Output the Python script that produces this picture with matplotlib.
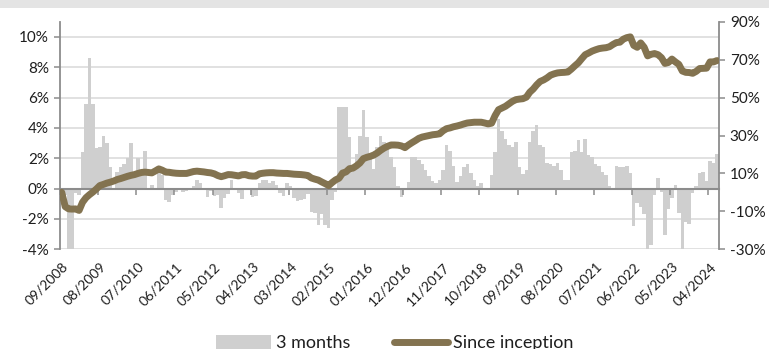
import matplotlib
matplotlib.use("Agg")
import matplotlib.pyplot as plt
from matplotlib.patches import Rectangle
from matplotlib.lines import Line2D
from matplotlib.patches import Patch
import numpy as np
import pandas as pd

# Monthly categories, 09/2008 .. 06/2024
months = pd.date_range("2008-09-01", periods=190, freq="MS").strftime("%m/%Y").tolist()

tick_labels = ["09/2008", "08/2009", "07/2010", "06/2011", "05/2012", "04/2013",
               "03/2014", "02/2015", "01/2016", "12/2016", "11/2017", "10/2018",
               "09/2019", "08/2020", "07/2021", "06/2022", "05/2023", "04/2024"]

# Rolling 3-month return (%), left axis
three_months = [
    -0.2, -0.4, -4.5, -4.3, -0.3, -0.4, 2.4, 5.6, 8.6, 5.6,
    2.7, 2.75, 3.5, 3.0, 1.4, 0.0, 1.1, 1.4, 1.65, 2.0,
    3.0, 1.1, 2.05, 1.0, 2.45, 0.0, 0.25, 0.0, 1.3, 0.9,
    -0.75, -0.85, -0.4, -0.2, 0.05, -0.2, -0.15, -0.1, 0.15, 0.6,
    0.35, 0.0, -0.55, -0.15, -0.5, -0.45, -1.3, -0.65, -0.35, 0.55,
    -0.05, -0.3, -0.7, -0.1, -0.1, -0.55, -0.5, 0.4, 0.55, 0.55,
    0.35, 0.5, 0.25, -0.3, -0.5, 0.35, 0.2, -0.6, -0.8, -0.75,
    -0.7, -0.35, -1.55, -1.6, -2.4, -1.7, -2.4, -2.6, -0.75, -0.2,
    5.4, 5.4, 5.4, 3.4, 1.3, 2.3, 3.5, 5.2, 3.4, 2.1,
    1.3, 2.75, 3.5, 3.1, 2.8, 2.1, 1.4, 0.2, -0.55, 0.0,
    0.45, 2.1, 2.1, 1.9, 1.6, 1.2, 0.85, 0.5, 0.4, 0.55,
    1.2, 2.9, 2.5, 1.5, 0.45, 0.8, 1.4, 1.65, 1.0, 0.6,
    0.2, 0.4, 0.0, 0.0, 0.9, 2.4, 4.6, 3.8, 3.3, 2.85,
    2.75, 3.1, 1.4, 0.95, 1.25, 3.1, 3.8, 4.2, 2.85, 2.75,
    1.7, 1.6, 1.5, 1.7, 1.2, 0.55, 0.6, 2.4, 2.5, 3.2,
    2.4, 3.3, 2.2, 2.1, 1.6, 1.5, 1.1, 0.9, 0.2, 0.0,
    1.5, 1.4, 1.4, 1.5, 1.0, -2.45, -0.95, -1.2, -1.7, -4.05,
    -3.7, -0.4, 0.7, -0.25, -3.05, -1.35, -0.65, 0.25, -1.6, -4.05,
    -2.2, -2.3, -0.3, 0.2, 1.0, 1.1, 0.5, 1.85, 1.7, 2.3,
]

# Cumulative return since inception (%), right axis
since_inception = [
    0.0, -7.5, -8.7, -8.8, -8.7, -9.5, -5.2, -2.8, -1.2, 0.2,
    1.8, 3.6, 4.2, 4.9, 5.4, 6.0, 6.8, 7.3, 7.9, 8.5,
    9.0, 9.4, 10.0, 10.5, 10.7, 10.5, 10.3, 11.3, 12.4, 11.7,
    10.7, 10.6, 10.3, 10.1, 10.0, 10.0, 10.0, 10.5, 11.0, 11.2,
    11.0, 10.8, 10.5, 10.3, 9.8, 8.9, 8.3, 8.8, 9.4, 9.3,
    9.0, 8.7, 9.3, 9.4, 8.8, 8.6, 8.6, 9.8, 10.1, 10.3,
    10.4, 10.4, 10.2, 10.1, 10.0, 10.0, 9.8, 9.6, 9.5, 9.4,
    9.2, 8.9, 7.6, 7.0, 6.5, 5.5, 4.6, 3.6, 5.2, 6.6,
    7.5, 10.2, 10.8, 12.5, 12.8, 14.0, 15.5, 17.8, 18.5, 19.0,
    19.7, 20.8, 22.2, 23.4, 24.3, 25.0, 25.0, 24.9, 24.5, 23.6,
    25.0, 26.2, 27.3, 28.5, 29.2, 29.6, 30.0, 30.4, 30.6, 30.9,
    32.5, 33.6, 34.0, 34.6, 35.0, 35.5, 36.1, 36.6, 36.8, 37.0,
    37.0, 37.0, 36.6, 36.1, 36.5, 40.5, 43.6, 44.5, 45.4, 46.7,
    48.0, 48.9, 49.2, 49.4, 50.2, 52.8, 54.5, 56.7, 58.5, 59.3,
    60.4, 61.8, 62.5, 63.0, 63.2, 63.3, 63.5, 65.0, 66.7, 68.3,
    70.5, 72.6, 73.5, 74.5, 75.2, 75.8, 76.1, 76.3, 76.8, 78.0,
    79.0, 79.2, 80.8, 81.6, 82.0, 77.5, 76.5, 78.8, 76.5, 72.0,
    72.8, 73.2, 72.6, 71.0, 68.0, 68.5, 70.3, 68.8, 67.5, 64.0,
    63.3, 63.2, 62.8, 63.8, 65.3, 65.4, 65.5, 68.8, 68.8, 69.5,
]

BAR_COLOR = "#cfcfcf"
LINE_COLOR = "#837350"
AXIS_COLOR = "#8c8c8c"
GRID_COLOR = "#dedede"
TEXT_COLOR = "#1e1e1e"
LINE_WIDTH = 5.0

plt.rcParams["font.family"] = ["Lato", "DejaVu Sans"]

W, H = 769, 349
fig = plt.figure(figsize=(W / 100, H / 100), dpi=100)

# header band
fig.patches.append(Rectangle((0, 1 - 8 / H), 1, 8 / H, transform=fig.transFigure,
                             facecolor="#e4e4e4", edgecolor="none", zorder=0))

ax = fig.add_axes([60 / W, 1 - 249.3 / H, (718.7 - 60) / W, (249.3 - 21.7) / H])
x = np.arange(len(months))

ymin, ymax = -4, 11
ax.set_ylim(ymin, ymax)
ax.set_xlim(-0.5, len(months) - 0.5)
ax.set_yticks(np.arange(-4, 11, 2))
ax.yaxis.set_major_formatter(lambda v, p: f"{v:.0f}%")
ax.grid(axis="y", color=GRID_COLOR, linewidth=1.3, zorder=0)
ax.set_axisbelow(True)

ax.bar(x, three_months, width=1.0, color=BAR_COLOR, linewidth=0, zorder=2)

for side in ("top", "bottom", "right"):
    ax.spines[side].set_visible(False)
ax.spines["left"].set_color(AXIS_COLOR)
ax.spines["left"].set_linewidth(1.3)
ax.tick_params(axis="y", direction="out", length=4, width=1.1, color=AXIS_COLOR,
               labelsize=11, labelcolor=TEXT_COLOR, pad=4)

# category labels at the bottom
ax.set_xticks(np.arange(0, len(months), 11))
ax.set_xticklabels(tick_labels, rotation=45, ha="right", va="top",
                   rotation_mode="anchor", fontsize=10, color=TEXT_COLOR)
ax.tick_params(axis="x", length=0, pad=8)

# horizontal category axis running through 0%
zero_pos = (0 - ymin) / (ymax - ymin)
sec = ax.secondary_xaxis(zero_pos)
sec.set_xticks(np.arange(-0.5, len(months), 11))
sec.set_xticklabels([])
sec.tick_params(axis="x", direction="out", length=4, width=1.1, color=AXIS_COLOR)
sec.spines["bottom"].set_color(AXIS_COLOR)
sec.spines["bottom"].set_linewidth(1.5)
sec.set_zorder(3)

# right axis with the cumulative line
ax2 = ax.twinx()
ax2.set_ylim(-30, 90)
ax2.set_yticks(np.arange(-30, 91, 20))
ax2.yaxis.set_major_formatter(lambda v, p: f"{v:.0f}%")
for side in ("top", "bottom", "left"):
    ax2.spines[side].set_visible(False)
ax2.spines["right"].set_color(AXIS_COLOR)
ax2.spines["right"].set_linewidth(1.3)
ax2.tick_params(axis="y", direction="out", length=4, width=1.1, color=AXIS_COLOR,
                labelsize=11, labelcolor=TEXT_COLOR, pad=4)
ax2.plot(x, since_inception, color=LINE_COLOR, linewidth=LINE_WIDTH,
         solid_capstyle="round", solid_joinstyle="round", zorder=4)

handles = [Patch(facecolor=BAR_COLOR, edgecolor="none", label="3 months"),
           Line2D([0], [0], color=LINE_COLOR, linewidth=LINE_WIDTH, solid_capstyle="round",
                  label="Since inception")]
fig.legend(handles=handles, loc="center", bbox_to_anchor=(395 / W, 1 - 343 / H),
           ncol=2, frameon=False, fontsize=13, handlelength=3.0, handleheight=0.8,
           handletextpad=0.3, columnspacing=2.4, labelcolor=TEXT_COLOR,
           borderpad=0, borderaxespad=0)

fig.savefig("out.png", dpi=100)
